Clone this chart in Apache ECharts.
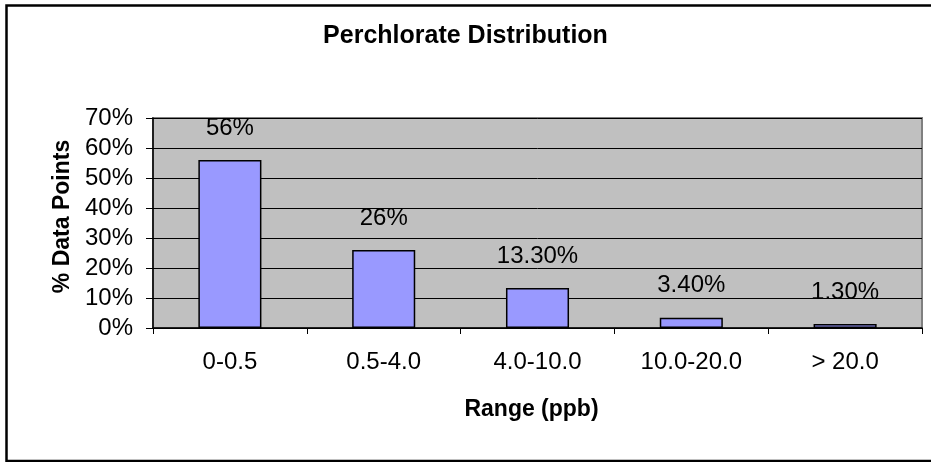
<!DOCTYPE html>
<html>
<head>
<meta charset="utf-8">
<script src="https://cdn.jsdelivr.net/npm/echarts@6/dist/echarts.min.js"></script>
<style>
html,body{margin:0;padding:0;background:#fff;}
#chart{width:931px;height:462px;}
</style>
</head>
<body>
<div id="chart"></div>
<script>
var categories = ['0-0.5', '0.5-4.0', '4.0-10.0', '10.0-20.0', '> 20.0'];
var values = [0.56, 0.26, 0.133, 0.034, 0.013];
var valueLabels = ['56%', '26%', '13.30%', '3.40%', '1.30%'];
var yTickValues = [0, 0.1, 0.2, 0.3, 0.4, 0.5, 0.6, 0.7];

var FONT = "'Liberation Sans', Arial, sans-serif";
var chart = echarts.init(document.getElementById('chart'), null, {renderer: 'canvas'});
chart.setOption({
  animation: false,
  backgroundColor: '#ffffff',
  title: {
    text: 'Perchlorate Distribution',
    left: 'center',
    top: 19,
    padding: [5, 5, 5, 24],
    textStyle: {fontFamily: FONT, fontWeight: 'bold', fontSize: 25, color: '#000'}
  },
  graphic: [{
    type: 'rect',
    shape: {x: 6.5, y: 5.5, width: 960, height: 455.5},
    style: {fill: 'none', stroke: '#000', lineWidth: 2.5},
    silent: true,
    z: 100
  }],
  grid: {
    left: 153, right: 9, top: 118, bottom: 134,
    show: true,
    backgroundColor: '#C0C0C0',
    borderColor: '#808080',
    borderWidth: 2
  },
  xAxis: {
    type: 'category',
    data: categories,
    boundaryGap: true,
    name: 'Range (ppb)',
    nameLocation: 'middle',
    nameGap: 70,
    nameTextStyle: {fontFamily: FONT, fontWeight: 'bold', fontSize: 23, color: '#000', padding: [0, 12, 0, 0]},
    axisLine: {show: true, lineStyle: {color: '#000', width: 1.5}},
    axisTick: {show: true, length: 6, alignWithLabel: false, lineStyle: {color: '#000'}},
    axisLabel: {fontFamily: FONT, fontSize: 24, color: '#000', margin: 22},
    splitLine: {show: false}
  },
  yAxis: {
    type: 'value',
    min: 0, max: 0.7, interval: 0.1,
    name: '% Data Points',
    nameLocation: 'middle',
    nameGap: 63,
    nameTextStyle: {fontFamily: FONT, fontWeight: 'bold', fontSize: 23, color: '#000', padding: [0, 0, 0, 13]},
    axisLine: {show: true, lineStyle: {color: '#000', width: 1.5}},
    axisTick: {show: true, length: 7, lineStyle: {color: '#000'}},
    axisLabel: {
      fontFamily: FONT, fontSize: 24, color: '#000', margin: 20,
      formatter: function (v) { return Math.round(v * 100) + '%'; }
    },
    splitLine: {show: true, lineStyle: {color: '#000', width: 1}}
  },
  series: [{
    type: 'bar',
    data: values,
    barWidth: '41%',
    itemStyle: {color: '#9999FF', borderColor: '#000', borderWidth: 1.5},
    label: {
      show: true,
      position: 'top',
      distance: 20,
      fontFamily: FONT, fontSize: 24, color: '#000',
      formatter: function (p) { return valueLabels[p.dataIndex]; }
    }
  }]
});
</script>
</body>
</html>
